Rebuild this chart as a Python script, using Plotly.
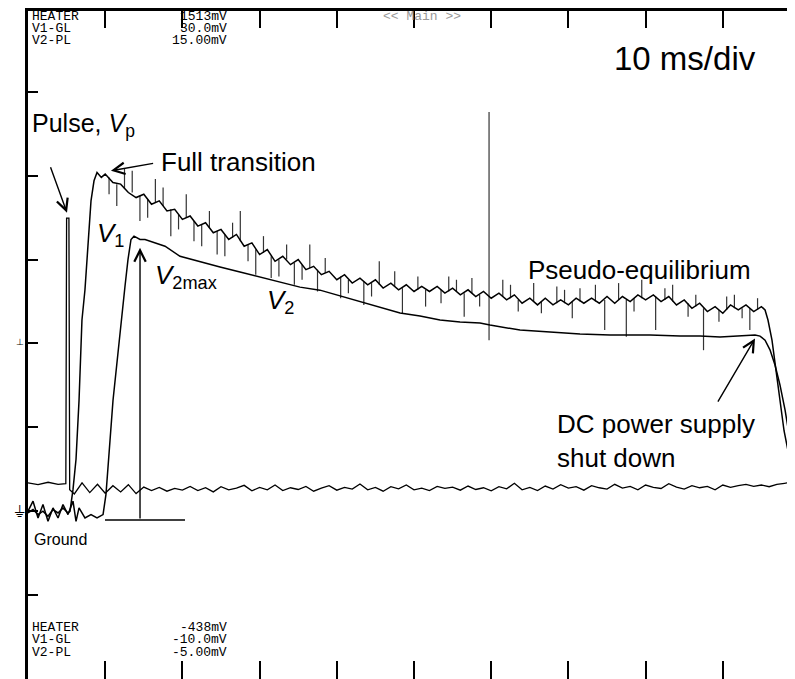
import plotly.graph_objects as go

# oscilloscope capture, 10 ms/div, V1 5 mV/div, V2 2.5 mV/div
# V1 main trace (ms, mV)
v1_t = [0, 0.65, 1.30, 1.94, 2.59, 3.24, 3.89, 4.53, 5.18, 5.44,
        5.83, 6.22, 6.61, 6.99, 7.38, 7.77, 8.16, 8.55, 8.94, 9.5,
        10, 11, 12, 13, 14, 15, 16, 17, 18, 19, 20, 21, 22, 23, 24, 25, 26, 27, 28, 29,
        30, 31, 32, 33, 34, 35, 36, 37, 38, 39, 40, 41, 42, 43, 44, 45, 46, 47, 48, 49,
        50, 51, 52, 53, 54, 55, 56, 57, 58, 59, 60, 61, 62, 63, 64, 65, 66, 67, 68, 69,
        70, 71, 72, 73, 74, 75, 76, 77, 78, 79, 80, 81, 82, 83, 84, 85, 86, 87, 88, 89,
        90, 91, 92, 93, 94, 95, 95.47, 95.85, 96.37, 96.89, 97.41, 97.93, 98.45, 98.96, 99.35]
v1_mv = [-0.1, 0.1, -0.2, 0.0, -0.3, 0.1, -0.1, 0.2, -0.1, 0.0,
         1.3, 3.1, 6.6, 11.4, 13.2, 16.2, 18.5, 19.7, 20.2, 19.9,
         20.1, 19.6, 19.5, 19.0, 18.7, 18.9, 18.3, 18.5, 17.9, 18.0,
         17.4, 17.6, 17.0, 17.2, 16.6, 16.8, 16.2, 16.5, 15.8, 16.0,
         15.3, 15.6, 14.9, 15.2, 14.7, 15.0, 14.4, 14.6, 14.1, 14.3,
         13.8, 14.1, 13.6, 13.9, 13.5, 13.8, 13.3, 13.6, 13.2, 13.5,
         13.1, 13.4, 13.1, 13.4, 13.0, 13.3, 12.9, 13.2, 12.8, 13.1,
         12.7, 13.0, 12.6, 12.9, 12.4, 12.7, 12.3, 12.7, 12.3, 12.6,
         12.3, 12.7, 12.4, 12.7, 12.4, 12.8, 12.4, 12.8, 12.5, 12.9,
         12.6, 12.9, 12.5, 12.8, 12.3, 12.6, 12.1, 12.4, 11.9, 12.2,
         11.8, 12.3, 12.0, 12.3, 11.9, 12.2, 12.0, 11.4, 10.2, 8.4,
         6.6, 4.8, 3.6, 2.5, 1.7]

# V1 noise spikes: time, trace level, spike tip (mV)
spike_t = [10.5, 11.5, 12.5, 13.5, 14.5, 15.5, 16.5, 17.5, 18.5, 19.5,
           20.5, 21.5, 22.5, 23.5, 24.5, 25.5, 26.5, 27.5, 28.5, 29.5,
           30.5, 31.5, 32.5, 33.5, 34.5, 35.5, 36.5, 37.5, 38.5, 40.5,
           41.5, 43.5, 44.5, 45.5, 47.5, 48.5, 50.5, 51.5, 53.5, 54.5,
           55.5, 56.5, 57.5, 58.5, 59.72, 61.5, 62.5, 63.5, 65.5, 66.5,
           68.5, 69.5, 70.5, 71.5, 73.5, 74.7, 76.5, 77.5, 78.5, 79.5,
           81.3, 82.5, 83.5, 85.5, 86.5, 87.5, 89.5, 90.5, 91.5, 92.5,
           93.5, 94.5]
spike_from = [19.9, 19.5, 19.2, 19.0, 18.8, 18.6, 18.4, 18.2, 18.0, 17.7,
              17.5, 17.3, 17.1, 16.9, 16.7, 16.5, 16.3, 16.1, 15.9, 15.6,
              15.4, 15.2, 15.0, 15.0, 14.8, 14.7, 14.5, 14.4, 14.2, 14.0,
              13.8, 13.7, 13.6, 13.5, 13.4, 13.3, 13.2, 13.2, 13.2, 13.1,
              13.1, 13.0, 13.0, 12.9, 23.8, 12.8, 12.7, 12.6, 12.5, 12.5,
              12.4, 12.4, 12.5, 12.5, 12.5, 12.6, 12.6, 12.6, 12.7, 12.7,
              12.8, 12.6, 12.5, 12.4, 12.2, 12.1, 12.0, 12.0, 12.1, 12.1,
              12.1, 12.0]
spike_to = [18.9, 18.2, 20.4, 20.3, 17.3, 17.5, 19.8, 19.3, 16.4, 16.8,
            18.9, 16.1, 15.8, 17.9, 15.3, 15.2, 17.2, 17.9, 14.9, 14.1,
            16.4, 13.9, 14.0, 15.9, 13.5, 13.8, 15.9, 13.1, 15.1, 12.7,
            13.0, 12.3, 12.8, 14.9, 14.3, 11.8, 14.0, 12.2, 12.4, 14.0,
            13.8, 11.6, 13.9, 12.2, 10.2, 13.8, 13.5, 11.9, 13.6, 11.8,
            13.4, 13.2, 11.5, 13.3, 13.5, 10.8, 13.6, 10.4, 11.9, 13.8,
            10.8, 13.3, 13.5, 11.6, 12.9, 9.6, 11.3, 12.8, 12.9, 11.5,
            10.8, 12.7]

v2_t = [0, 0.65, 1.30, 1.94, 2.59, 3.24, 3.89, 4.53, 5.18, 5.83,
        6.22, 6.61, 7.38, 8.16, 8.94, 9.72, 10.10, 10.36, 10.62, 11.01,
        11.40, 11.79, 12.18, 12.56, 12.95, 13.34, 13.73, 14.51, 15.16, 16.45,
        17.75, 19.69, 22.28, 24.87, 27.46, 30.05, 32.64, 35.23, 37.82, 40.41,
        43.01, 45.60, 48.19, 50.78, 53.37, 55.96, 58.55, 59.84, 63.73, 67.62,
        71.50, 75.39, 80.57, 84.46, 87.05, 89.64, 92.23, 94.17, 94.82, 95.47,
        96.11, 96.76, 97.41, 98.06, 98.70, 99.35]
v2_mv = [0.0, 0.3, -0.2, 0.2, -0.3, 0.1, -0.2, 0.2, -0.1, 0.3,
         -0.3, 0.1, -0.2, -0.1, -0.2, -0.1, 0.5, 1.2, 2.1, 3.3,
         4.2, 5.0, 6.0, 6.7, 7.5, 8.1, 8.2, 8.1, 8.1, 8.0,
         7.9, 7.6, 7.43, 7.28, 7.13, 6.98, 6.83, 6.68, 6.59, 6.42,
         6.24, 6.06, 5.91, 5.82, 5.70, 5.64, 5.61, 5.55, 5.40, 5.34,
         5.28, 5.25, 5.25, 5.22, 5.22, 5.19, 5.22, 5.25, 5.22, 5.10,
         4.81, 4.36, 3.76, 3.02, 2.12, 1.38]

heater_t = [0, 1.3, 2.6, 3.9, 4.9, 5.0, 5.3, 5.4,
            6, 7, 8, 9, 10, 11, 12, 13, 14, 15, 16, 17, 18, 19, 20, 21, 22,
            23, 24, 25, 26, 27, 28, 29, 30, 31, 32, 33, 34, 35, 36, 37, 38,
            39, 40, 41, 42, 43, 44, 45, 46, 47, 48, 49, 50, 51, 52, 53, 54,
            55, 56, 57, 58, 59, 60, 61, 62, 63, 64, 65, 66, 67, 68, 69, 70,
            71, 72, 73, 74, 75, 76, 77, 78, 79, 80, 81, 82, 83, 84, 85, 86,
            87, 88, 89, 90, 91, 92, 93, 94, 95, 96, 97, 98, 99]
heater_mv = [132, 127, 134, 128, 130, 902, 902, 112,
             100, 132, 104, 128, 102, 124, 106, 127, 101, 120, 110, 119, 108, 116, 111, 122, 110,
             118, 106, 121, 112, 117, 125, 109, 119, 112, 126, 110, 118, 113, 122, 108, 117,
             124, 111, 119, 114, 129, 112, 119, 108, 121, 115, 126, 112, 117, 110, 122, 116,
             120, 111, 123, 113, 118, 109, 121, 115, 131, 112, 119, 110, 123, 114, 127, 117,
             121, 111, 124, 118, 114, 128, 117, 122, 112, 126, 119, 116, 130, 120, 114, 124,
             118, 122, 112, 126, 119, 124, 128, 122, 126, 121, 128, 131, 134]

channels = ["HEATER", "V1-GL", "V2-PL"]
top_values = ["1513mV", "30.0mV", "15.00mV"]
bottom_values = ["-438mV", "-10.0mV", "-5.00mV"]

# spikes drawn as short vertical segments
seg_x, seg_y = [], []
for t, a, b in zip(spike_t, spike_from, spike_to):
    seg_x += [t, t, None]
    seg_y += [a, b, None]

fig = go.Figure()
fig.add_trace(go.Scatter(x=heater_t, y=heater_mv, mode="lines", yaxis="y3",
                         line=dict(color="black", width=1.3)))
fig.add_trace(go.Scatter(x=seg_x, y=seg_y, mode="lines", line=dict(color="#333333", width=1.2)))
fig.add_trace(go.Scatter(x=v1_t, y=v1_mv, mode="lines", line=dict(color="black", width=1.5)))
fig.add_trace(go.Scatter(x=v2_t, y=v2_mv, mode="lines", yaxis="y2",
                         line=dict(color="black", width=1.5)))
# invisible point so the top axis is drawn
fig.add_trace(go.Scatter(x=[0], y=[0], xaxis="x2", mode="markers", marker=dict(opacity=0),
                         hoverinfo="skip"))

big = dict(family="Liberation Sans", size=26, color="black")
mono = dict(family="Liberation Mono", size=13, color="black")

ann = [
    dict(x=0.3, y=23.0, text="Pulse, <i>V</i><sub>p</sub>", font=dict(family="Liberation Sans", size=25, color="black")),
    dict(x=17.0, y=20.8, text="Full transition"),
    dict(x=8.7, y=16.5, text="<i>V</i><sub>1</sub>"),
    dict(x=16.2, y=14.0, text="<i>V</i><sub>2max</sub>"),
    dict(x=30.7, y=12.5, text="<i>V</i><sub>2</sub>"),
    dict(x=64.5, y=14.4, text="Pseudo-equilibrium"),
    dict(x=68.2, y=4.2, text="DC power supply<br>shut down", align="left"),
    dict(x=75.6, y=27.0, text="10 ms/div", font=dict(family="Liberation Sans", size=33, color="black")),
    dict(x=0.5, y=-1.7, text="Ground", font=dict(family="Liberation Sans", size=16, color="black")),
]
annotations = []
for a in ann:
    a.setdefault("font", big)
    a.update(showarrow=False, xanchor="left", yanchor="middle", xref="x", yref="y")
    annotations.append(a)

# arrows (tail -> tip)
arrows = [
    (2.85, 20.6, 5.05, 17.8),
    (16.4, 20.75, 10.75, 20.3),
    (14.51, -0.52, 14.51, 15.7),
    (89.25, 6.45, 94.17, 10.3),
]
for x0, y0, x1, y1 in arrows:
    annotations.append(dict(x=x1, y=y1, ax=x0, ay=y0, xref="x", yref="y", axref="x", ayref="y",
                            showarrow=True, arrowhead=5, arrowsize=1.6, arrowwidth=1.4,
                            arrowcolor="black", text=""))

# channel readouts at top and bottom of the screen
ytops = [0.990, 0.972, 0.954]
ybots = [0.0776, 0.0590, 0.0403]
for i, name in enumerate(channels):
    for yy, val in [(ytops[i], top_values[i]), (ybots[i], bottom_values[i])]:
        annotations.append(dict(x=0.0026, y=yy, xref="paper", yref="paper", text=name,
                                showarrow=False, xanchor="left", yanchor="middle", font=mono))
        annotations.append(dict(x=0.262, y=yy, xref="paper", yref="paper", text=val,
                                showarrow=False, xanchor="right", yanchor="middle", font=mono))

annotations.append(dict(x=0.514, y=0.990, xref="paper", yref="paper", text="<< Main >>",
                        showarrow=False, yanchor="middle",
                        font=dict(family="Liberation Mono", size=13, color="#999999")))
annotations.append(dict(x=0, y=0, xref="paper", yref="y", text="⏚", showarrow=False,
                        xanchor="right", yanchor="middle", xshift=-1,
                        font=dict(family="DejaVu Sans", size=16, color="black")))
annotations.append(dict(x=0, y=10.1, xref="paper", yref="y", text="⊥", showarrow=False,
                        xanchor="right", yanchor="middle", xshift=-2,
                        font=dict(family="DejaVu Sans", size=9, color="black")))

# page body has an 8px margin, so the plot area is offset to land on the screen grid
fig.update_layout(
    width=795, height=679,
    margin=dict(l=20, r=8, t=2, b=8, autoexpand=False),
    paper_bgcolor="white", plot_bgcolor="white",
    showlegend=False,
    annotations=annotations,
    shapes=[dict(type="line", xref="x", yref="y", x0=9.97, x1=20.34, y0=-0.52, y1=-0.52,
                 line=dict(color="black", width=1.5)),
            # top frame edge of the screen
            dict(type="line", xref="paper", yref="paper", x0=0, x1=1, y0=1, y1=1,
                 line=dict(color="black", width=2))],
    xaxis=dict(range=[0, 99.35], showgrid=False, zeroline=False, showline=False, automargin=False,
               ticks="inside", tick0=0, dtick=10, ticklen=18, tickwidth=1.5, tickcolor="black",
               showticklabels=False),
    xaxis2=dict(overlaying="x", matches="x", side="top", showgrid=False, zeroline=False,
                showline=True, linecolor="black", linewidth=2, automargin=False,
                ticks="inside", tick0=0, dtick=10, ticklen=18, tickwidth=1.5, tickcolor="black",
                showticklabels=False),
    yaxis=dict(range=[-10, 29.88], showgrid=False, zeroline=False, showline=True, automargin=False,
               linecolor="black", linewidth=3, ticks="inside", tick0=-10, dtick=5,
               ticklen=10, tickwidth=2, tickcolor="black", showticklabels=False),
    yaxis2=dict(range=[-5, 14.94], overlaying="y", side="right", showgrid=False, zeroline=False,
                showline=False, automargin=False, ticks="inside", tick0=-5, dtick=2.5, ticklen=6,
                tickwidth=1.5, tickcolor="black", showticklabels=False),
    yaxis3=dict(range=[-438, 1507], overlaying="y", visible=False),
)

fig.write_html("out.html")
